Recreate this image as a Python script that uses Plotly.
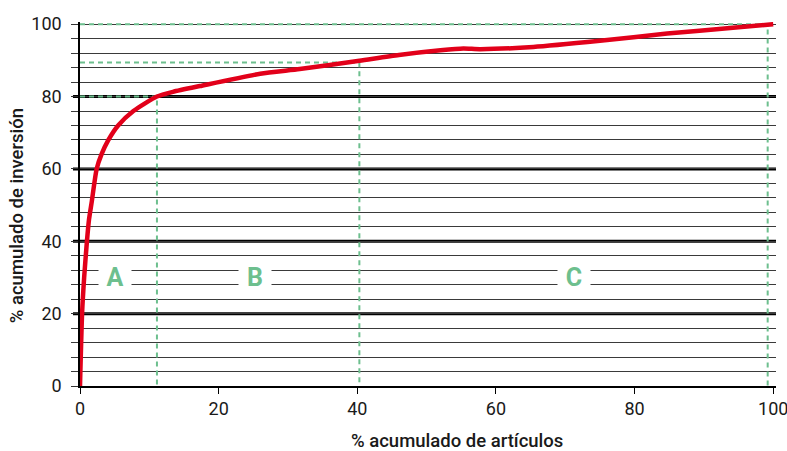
import plotly.graph_objects as go

# cumulative % of items vs cumulative % of investment (ABC / Pareto curve)
pct_items = [0, 0.3, 0.6, 1.0, 1.3, 1.7, 2.4, 3.1, 4.1, 5.5, 7.7, 11.1, 13.4, 17.3,
             26, 31.7, 40.3, 46, 52, 55.3, 57.7, 65.4, 75, 84.7, 94.2, 100]
pct_invest = [0, 20, 30, 40, 46, 51, 60, 64, 68, 72, 76, 80, 81.3, 82.9,
              86.3, 87.6, 89.9, 91.5, 92.8, 93.3, 93.1, 93.7, 95.4, 97.4, 99.0, 100]

# class boundaries (x = % items, y = % investment)
class_x = [11.1, 40.3, 99.2]
class_y = [80, 89.4, 100]

class_names = ["A", "B", "C"]
class_label_x = [5.05, 25.3, 71.3]
class_label_y = 30

xticks = [0, 20, 40, 60, 80, 100]
yticks = [0, 20, 40, 60, 80, 100]
thick_lines = [20, 40, 60, 80]

x_title = "% acumulado de artículos"
y_title = "% acumulado de inversión"

RED = "#e2001a"
GREEN = "#6dbf8e"
FONT = "Roboto"

fig = go.Figure()

# green dashed boundary lines
for bx, by in zip(class_x, class_y):
    fig.add_trace(go.Scatter(
        x=[0, bx, bx], y=[by, by, 0],
        mode="lines",
        line=dict(color=GREEN, width=2, dash="5px,4px"),
        hoverinfo="skip", showlegend=False))

fig.add_trace(go.Scatter(
    x=pct_items, y=pct_invest,
    mode="lines",
    line=dict(color=RED, width=4.5, shape="spline", smoothing=0.6),
    showlegend=False))

# thick gridlines every 20
for v in thick_lines:
    fig.add_shape(type="line", xref="paper", yref="y",
                  x0=-0.0101, x1=1, y0=v, y1=v,
                  line=dict(color="black", width=3), layer="between")

for name, lx in zip(class_names, class_label_x):
    fig.add_annotation(x=lx, y=class_label_y, text=name, showarrow=False,
                       font=dict(family=FONT, size=25, color=GREEN, weight="bold"),
                       bgcolor="white", width=28, height=26, borderpad=2)

# axis titles sit off-centre in the original, so place them as annotations
fig.add_annotation(text=x_title, xref="paper", yref="paper", x=0.542, y=-0.152,
                   showarrow=False, xanchor="center", yanchor="middle",
                   font=dict(family=FONT, size=18.5, weight=500))
fig.add_annotation(text=y_title, xref="paper", yref="paper", x=-0.0906, y=0.469,
                   showarrow=False, textangle=-90, xanchor="center", yanchor="middle",
                   font=dict(family=FONT, size=18.5, weight=500))

fig.update_layout(
    width=787, height=451,
    margin=dict(l=80, r=11, t=22, b=65),
    plot_bgcolor="white", paper_bgcolor="white",
    font=dict(family=FONT, size=18, color="#1a1a1a"),
)

fig.update_xaxes(
    range=[0, 100.4],
    tickvals=xticks,
    ticks="outside", ticklen=6, tickwidth=1.2, tickcolor="black",
    ticklabeloverflow="allow",
    showline=True, linecolor="black", linewidth=1.5,
    showgrid=False, zeroline=False, automargin=False,
)

fig.update_yaxes(
    range=[0, 100.6],
    tickvals=yticks,
    ticks="outside", ticklen=7, tickwidth=1.2, tickcolor="#333",
    ticklabelstandoff=6,
    showline=True, linecolor="black", linewidth=1.5,
    showgrid=True, gridcolor="#3a3a3a", gridwidth=1.2,
    zeroline=False, automargin=False,
    minor=dict(dtick=4, tick0=0, showgrid=True, gridcolor="#3a3a3a", gridwidth=1.2,
               ticks="outside", ticklen=7, tickwidth=1.2, tickcolor="#3a3a3a"),
)

# drop the default 8px page margin so the figure fills the window
fig.write_html("out.html", config={"displayModeBar": False},
               post_script="document.body.style.margin='0';document.body.style.overflow='hidden';")
